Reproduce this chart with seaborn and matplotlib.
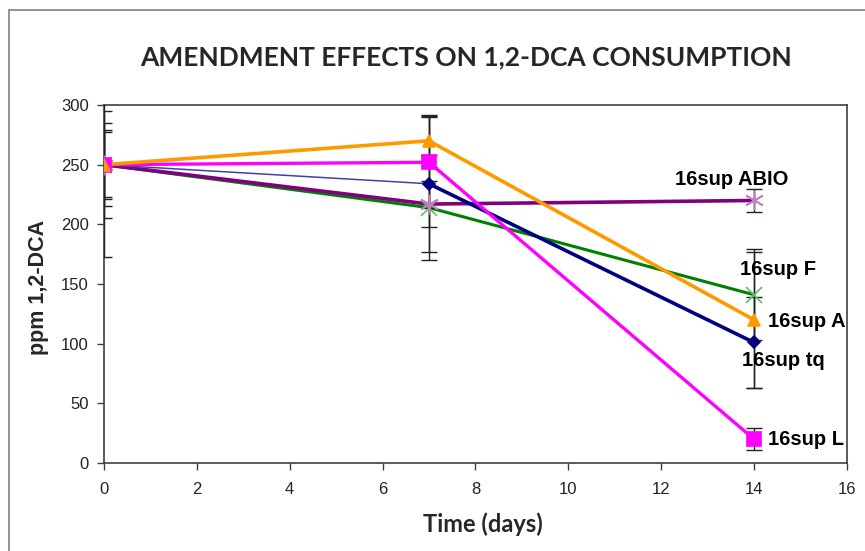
import numpy as np
import pandas as pd
import matplotlib
matplotlib.use("Agg")
import matplotlib.pyplot as plt
import seaborn as sns
from matplotlib.patches import Rectangle

# Sampling days
days = [0, 7, 14]

# Mean 1,2-DCA concentration (ppm) per treatment
abio = [250, 217, 220]
f_vals = [250, 214, 141]
a_vals = [250, 270, 120]
tq_vals = [250, 234, 101]
l_vals = [250, 252, 20]

# Error bar half-widths per treatment
abio_err = [27, 19, 10]
f_err = [35, 44, 38]
a_err = [45, 22, 57]
tq_err = [77, 57, 38]
l_err = [29, 38, 9]

labels = ["16sup ABIO", "16sup F", "16sup A", "16sup tq", "16sup L"]
x_ticks = [0, 2, 4, 6, 8, 10, 12, 14, 16]
y_ticks = [0, 50, 100, 150, 200, 250, 300]

rows = []
for name, vals, errs in zip(labels, [abio, f_vals, a_vals, tq_vals, l_vals],
                            [abio_err, f_err, a_err, tq_err, l_err]):
    for d, v, e in zip(days, vals, errs):
        rows.append({"day": d, "ppm": v, "err": e, "series": name})
df = pd.DataFrame(rows)

sns.set_theme(style="white")
plt.rcParams["font.family"] = ["Liberation Sans", "DejaVu Sans"]

fig = plt.figure(figsize=(8.65, 5.51), dpi=100)
ax = fig.add_axes([0.1202, 0.1597, 0.979 - 0.1202, 0.8094 - 0.1597])

# chart frame
fig.patches.append(Rectangle((9 / 865, -0.05), 1.1, 1 - 10 / 551 + 0.05,
                             transform=fig.transFigure, fill=False,
                             edgecolor="#7f7f7f", lw=1.2, zorder=0))

style = {
    "16sup ABIO": dict(color="#800080", marker=(6, 2, 0), ms=14, mec="#C080C0", lw=2.6),
    "16sup F": dict(color="#008000", marker="x", ms=11, mec="#60C060", lw=2.2),
    "16sup A": dict(color="#FF9900", marker="^", ms=9, mec="#FF9900", lw=2.6),
    "16sup tq": dict(color="#000080", marker="D", ms=6, mec="#000080", lw=2.6),
    "16sup L": dict(color="#FF00FF", marker="s", ms=10, mec="#FF00FF", lw=2.4),
}

order = ["16sup F", "16sup ABIO", "16sup tq", "16sup L", "16sup A"]
for name in order:
    sub = df[df["series"] == name]
    st = style[name]
    if name == "16sup tq":
        # first interval drawn as a thin line, second as a heavy line
        first = sub[sub["day"] <= 7]
        second = sub[sub["day"] >= 7]
        sns.lineplot(data=first, x="day", y="ppm", ax=ax, color="#4040A8",
                     lw=1.1, legend=False, zorder=3)
        sns.lineplot(data=second, x="day", y="ppm", ax=ax, color=st["color"],
                     lw=st["lw"], legend=False, zorder=3)
    else:
        sns.lineplot(data=sub, x="day", y="ppm", ax=ax, color=st["color"],
                     lw=st["lw"], legend=False, zorder=3)
    ax.errorbar(sub["day"], sub["ppm"], yerr=sub["err"], fmt="none",
                ecolor="#222222", elinewidth=1.0, capsize=6, capthick=1.0,
                zorder=4, clip_on=True)
    ax.plot(sub["day"], sub["ppm"], linestyle="none", marker=st["marker"],
            ms=st["ms"], color=st["color"], mec=st["mec"], mew=1.2, zorder=5)

# end-of-series labels
lab_kw = dict(fontsize=14.5, fontweight="bold", color="black", zorder=6,
              textcoords="offset points", va="center")
ax.annotate("16sup ABIO", (14, abio[-1]), xytext=(-16, 15), ha="center", **lab_kw)
ax.annotate("16sup F", (14, f_vals[-1]), xytext=(17, 18), ha="center", **lab_kw)
ax.annotate("16sup A", (14, a_vals[-1]), xytext=(10, -1), ha="left", **lab_kw)
ax.annotate("16sup tq", (14, tq_vals[-1]), xytext=(21, -13), ha="center", **lab_kw)
ax.annotate("16sup L", (14, l_vals[-1]), xytext=(10, 0), ha="left", **lab_kw)

ax.set_xlim(0, 16)
ax.set_ylim(0, 300)
ax.set_xticks(x_ticks)
ax.set_yticks(y_ticks)
ax.tick_params(axis="both", direction="out", length=5, width=1.0,
               color="#404040", labelsize=12, labelcolor="#222222")
ax.tick_params(axis="x", pad=9)
ax.tick_params(axis="y", pad=6)
ax.tick_params(axis="both", bottom=True, left=True)
for s in ax.spines.values():
    s.set_color("#404040")
    s.set_linewidth(1.2)

ax.set_xlabel("Time (days)", fontsize=17, fontweight="bold",
              family=["Lato", "DejaVu Sans"])
ax.xaxis.set_label_coords(0.51, -0.137)
ax.set_ylabel("ppm 1,2-DCA", fontsize=15.5, fontweight="bold")
ax.yaxis.set_label_coords(-0.074, 0.49)
fig.text(0.539, 0.896, "AMENDMENT EFFECTS ON 1,2-DCA CONSUMPTION",
         ha="center", va="center", fontsize=19, fontweight="bold",
         family=["Lato", "DejaVu Sans"])

fig.savefig("out.png", dpi=100, facecolor="white")
